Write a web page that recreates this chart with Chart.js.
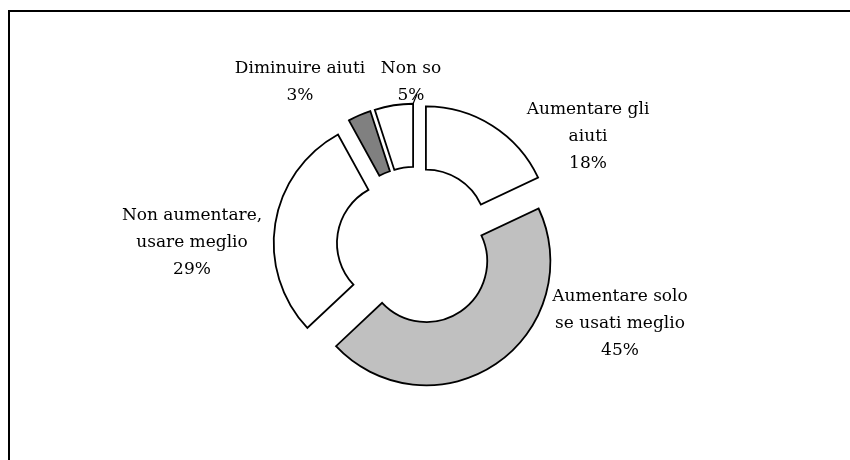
<!DOCTYPE html>
<html>
<head>
<meta charset="utf-8">
<script src="https://cdn.jsdelivr.net/npm/chart.js@4.4.0/dist/chart.umd.min.js"></script>
<style>
    html, body { margin: 0; padding: 0; background: #fff; }
    #wrap { position: relative; width: 850px; height: 460px; overflow: hidden; }
    #frame {
        position: absolute; left: 8px; top: 10px; width: 900px; height: 500px;
        border-top: 2px solid #000; border-left: 2px solid #000;
    }
    #pie { position: absolute; left: 0; top: 0; }
</style>
</head>
<body>
<div id="wrap">
    <div id="frame"></div>
    <canvas id="pie" width="850" height="460"></canvas>
</div>
<script>
// -------------------------------------------------------------------------- Data

const categories = [
    ['Aumentare gli', 'aiuti'],
    ['Aumentare solo', 'se usati meglio'],
    ['Non aumentare,', 'usare meglio'],
    ['Diminuire aiuti'],
    ['Non so']
]

const values = [18, 45, 29, 3, 5]

// -------------------------------------------------------------------------- Style

const sliceColors = ['#ffffff', '#c0c0c0', '#ffffff', '#808080', '#ffffff']
const explode = 18.5
const labelFont = '17px "DejaVu Serif"'
const lineHeight = 27

// label anchor (centre x, first baseline) relative to the doughnut centre
const labelOffsets = [
    [172, -132],
    [204, 55],
    [-224, -26],
    [-116, -173],
    [-5, -173]
]

// -------------------------------------------------------------------------- Plugins

// every slice pulled out along its middle angle
const explodePlugin = {
    id: 'explode',
    beforeDatasetDraw(chart, args) {
        const ctx = chart.ctx
        args.meta.data.forEach(arc => {
            const mid = (arc.startAngle + arc.endAngle) / 2
            ctx.save()
            ctx.translate(Math.cos(mid) * explode, Math.sin(mid) * explode)
            arc.draw(ctx)
            ctx.restore()
        })
        return false
    }
}

const labelPlugin = {
    id: 'sliceLabels',
    afterDraw(chart) {
        const ctx = chart.ctx
        const arcs = chart.getDatasetMeta(0).data
        ctx.save()
        ctx.font = labelFont
        ctx.fillStyle = '#000'
        ctx.textAlign = 'center'
        ctx.textBaseline = 'alphabetic'
        arcs.forEach((arc, i) => {
            const x = arc.x + labelOffsets[i][0]
            let y = arc.y + labelOffsets[i][1]
            const lines = categories[i].concat([values[i] + '%'])
            lines.forEach(line => {
                ctx.fillText(line, x, y)
                y += lineHeight
            })
        })

        // short leader line for the small 'Non so' slice
        const arc = arcs[4]
        const mid = (arc.startAngle + arc.endAngle) / 2
        const cx = arc.x + Math.cos(mid) * explode
        const cy = arc.y + Math.sin(mid) * explode
        const sx = cx + Math.cos(arc.endAngle) * arc.outerRadius
        const sy = cy + Math.sin(arc.endAngle) * arc.outerRadius
        ctx.strokeStyle = '#000'
        ctx.lineWidth = 1.2
        ctx.beginPath()
        ctx.moveTo(sx, sy)
        ctx.lineTo(arc.x + labelOffsets[4][0] + 6, arc.y + labelOffsets[4][1] + 21)
        ctx.stroke()
        ctx.restore()
    }
}

// -------------------------------------------------------------------------- Render

let pieChart = new Chart(document.getElementById('pie'), {
    type: 'doughnut',
    data: {
        labels: categories,
        datasets: [{
            data: values,
            backgroundColor: sliceColors,
            borderColor: '#000',
            borderWidth: 1.8,
            borderJoinStyle: 'miter'
        }]
    },
    options: {
        responsive: false,
        animation: false,
        radius: 124,
        cutout: '49%',
        layout: {
            padding: { left: 0, right: 18, top: 32, bottom: 0 }
        },
        plugins: {
            legend: { display: false },
            tooltip: { enabled: false }
        },
        events: []
    },
    plugins: [explodePlugin, labelPlugin]
})
</script>
</body>
</html>
